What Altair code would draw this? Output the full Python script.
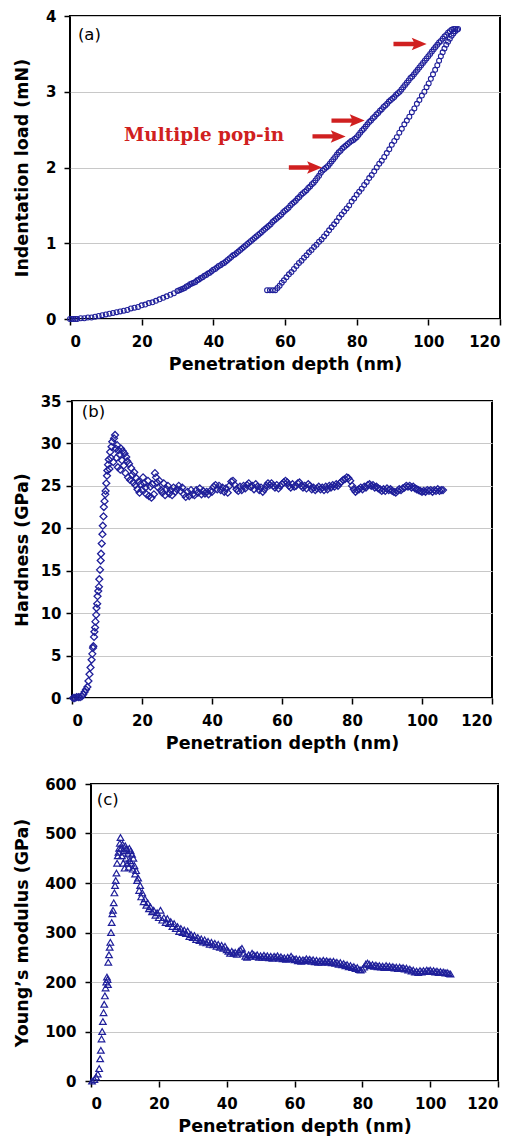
import altair as alt
import pandas as pd

BLUE = "#1f1f9a"
RED = "#d02020"

x_ticks = [0, 20, 40, 60, 80, 100, 120]
load_ticks = [0, 1, 2, 3, 4]
hard_ticks = [0, 5, 10, 15, 20, 25, 30, 35]
mod_ticks = [0, 100, 200, 300, 400, 500, 600]

# (a) loading branch: (depth nm, load mN)
loading = [
    (0.0, 0.00), (0.5, 0.00), (1.0, 0.00), (1.5, 0.00), (2.0, 0.00), (3.0, 0.01), (4.0, 0.01),
    (5.0, 0.02), (6.0, 0.02), (7.0, 0.03), (8.0, 0.04), (9.0, 0.05), (10.0, 0.06), (11.0, 0.07),
    (12.0, 0.08), (13.0, 0.09), (14.0, 0.10), (15.0, 0.11), (16.0, 0.12), (17.0, 0.14),
    (18.0, 0.15), (19.0, 0.16), (20.0, 0.18), (21.0, 0.19), (22.0, 0.21), (23.0, 0.22),
    (24.0, 0.24), (25.0, 0.26), (26.0, 0.28), (27.0, 0.30), (28.0, 0.32), (29.0, 0.34),
    (30.0, 0.37), (30.5, 0.38), (31.0, 0.39), (31.5, 0.40), (32.0, 0.41), (32.5, 0.43),
    (33.0, 0.44), (33.5, 0.46), (34.0, 0.47), (34.5, 0.48), (35.0, 0.49), (35.5, 0.51),
    (36.0, 0.52), (36.5, 0.54), (37.0, 0.55), (37.5, 0.57), (38.0, 0.58), (38.5, 0.60),
    (39.0, 0.61), (39.5, 0.63), (40.0, 0.65), (40.5, 0.66), (41.0, 0.68), (41.5, 0.70),
    (42.0, 0.71), (42.5, 0.73), (43.0, 0.74), (43.5, 0.76), (44.0, 0.78), (44.5, 0.80),
    (45.0, 0.82), (45.5, 0.84), (46.0, 0.85), (46.5, 0.87), (47.0, 0.89), (47.5, 0.91),
    (48.0, 0.93), (48.5, 0.95), (49.0, 0.97), (49.5, 0.99), (50.0, 1.01), (50.5, 1.03),
    (51.0, 1.05), (51.5, 1.07), (52.0, 1.09), (52.5, 1.11), (53.0, 1.13), (53.5, 1.15),
    (54.0, 1.17), (54.5, 1.19), (55.0, 1.21), (55.5, 1.23), (56.0, 1.25), (56.5, 1.28),
    (57.0, 1.30), (57.5, 1.32), (58.0, 1.34), (58.5, 1.36), (59.0, 1.38), (59.5, 1.41),
    (60.0, 1.43), (60.5, 1.45), (61.0, 1.47), (61.5, 1.50), (62.0, 1.52), (62.5, 1.54),
    (63.0, 1.56), (63.5, 1.59), (64.0, 1.61), (64.5, 1.64), (65.0, 1.66), (65.5, 1.68),
    (66.0, 1.70), (66.5, 1.73), (67.0, 1.75), (67.5, 1.78), (68.0, 1.80), (68.5, 1.83),
    (69.0, 1.86), (69.5, 1.89), (70.0, 1.93), (70.5, 1.96), (71.0, 1.98), (71.5, 2.00),
    (72.0, 2.02), (72.5, 2.05), (73.0, 2.08), (73.5, 2.11), (74.0, 2.14), (74.5, 2.17),
    (75.0, 2.20), (75.5, 2.22), (76.0, 2.25), (76.5, 2.27), (77.0, 2.29), (77.5, 2.31),
    (78.0, 2.33), (78.5, 2.35), (79.0, 2.36), (79.5, 2.38), (80.0, 2.40), (80.5, 2.43),
    (81.0, 2.46), (81.5, 2.49), (82.0, 2.51), (82.5, 2.54), (83.0, 2.57), (83.5, 2.60),
    (84.0, 2.62), (84.5, 2.65), (85.0, 2.67), (85.5, 2.70), (86.0, 2.72), (86.5, 2.75),
    (87.0, 2.77), (87.5, 2.80), (88.0, 2.82), (88.5, 2.84), (89.0, 2.87), (89.5, 2.89),
    (90.0, 2.91), (90.5, 2.93), (91.0, 2.96), (91.5, 2.98), (92.0, 3.00), (92.5, 3.03),
    (93.0, 3.06), (93.5, 3.09), (94.0, 3.12), (94.5, 3.15), (95.0, 3.18), (95.5, 3.20),
    (96.0, 3.23), (96.5, 3.26), (97.0, 3.29), (97.5, 3.32), (98.0, 3.35), (98.5, 3.38),
    (99.0, 3.41), (99.5, 3.44), (100.0, 3.47), (100.5, 3.50), (101.0, 3.53), (101.5, 3.56),
    (102.0, 3.59), (102.5, 3.62), (103.0, 3.65), (103.5, 3.67), (104.0, 3.70), (104.5, 3.73),
    (105.0, 3.75), (105.5, 3.78), (106.0, 3.80), (106.5, 3.82), (107.0, 3.83), (107.5, 3.83),
]

# (a) unloading branch
unloading = [
    (55.0, 0.38), (55.8, 0.38), (56.6, 0.38), (57.3, 0.38), (57.9, 0.41), (58.5, 0.44),
    (59.1, 0.48), (59.7, 0.51), (60.4, 0.55), (61.1, 0.59), (61.8, 0.62), (62.5, 0.66),
    (63.2, 0.70), (63.9, 0.74), (64.6, 0.77), (65.3, 0.81), (66.0, 0.84), (66.7, 0.88),
    (67.4, 0.91), (68.1, 0.95), (68.8, 0.98), (69.5, 1.02), (70.2, 1.05), (70.9, 1.09),
    (71.6, 1.13), (72.3, 1.17), (73.0, 1.21), (73.7, 1.25), (74.4, 1.29), (75.1, 1.34),
    (75.8, 1.38), (76.5, 1.42), (77.2, 1.46), (77.9, 1.50), (78.6, 1.55), (79.3, 1.59),
    (80.0, 1.64), (80.7, 1.68), (81.4, 1.72), (82.1, 1.77), (82.8, 1.81), (83.5, 1.86),
    (84.2, 1.90), (84.9, 1.95), (85.6, 2.00), (86.3, 2.05), (87.0, 2.09), (87.7, 2.14),
    (88.4, 2.19), (89.1, 2.24), (89.8, 2.30), (90.5, 2.35), (91.2, 2.40), (91.9, 2.46),
    (92.6, 2.51), (93.3, 2.57), (94.0, 2.62), (94.7, 2.67), (95.4, 2.73), (96.1, 2.78),
    (96.8, 2.84), (97.5, 2.89), (98.2, 2.95), (98.9, 3.00), (99.5, 3.06), (100.1, 3.11),
    (100.7, 3.17), (101.3, 3.23), (101.9, 3.29), (102.5, 3.35), (103.0, 3.41), (103.5, 3.47),
    (104.0, 3.52), (104.5, 3.57), (105.0, 3.62), (105.5, 3.66), (106.0, 3.70), (106.5, 3.74),
    (107.0, 3.77), (107.5, 3.80), (108.0, 3.82), (108.3, 3.83),
]

# (a) pop-in arrows (depth, load)
arrow_depth = [94.9, 77.6, 72.3, 65.7]
arrow_load = [3.63, 2.62, 2.41, 2.00]

# (b) hardness: (depth nm, GPa)
hardness = [
    (0.3, 0.0), (0.8, 0.0), (1.3, 0.1), (1.8, 0.1), (2.3, 0.1), (2.8, 0.2), (3.2, 0.4),
    (3.6, 0.7), (4.0, 1.0), (4.4, 1.3), (4.7, 2.0), (5.0, 2.8), (5.3, 3.6), (5.6, 4.5),
    (5.8, 5.2), (6.0, 5.9), (6.1, 6.1), (6.3, 7.2), (6.4, 7.8), (6.6, 8.3), (6.7, 9.0),
    (6.9, 9.8), (7.0, 10.6), (7.2, 11.1), (7.3, 12.0), (7.5, 12.6), (7.7, 13.1), (7.8, 14.0),
    (8.0, 15.1), (8.2, 16.2), (8.3, 17.0), (8.5, 18.2), (8.7, 19.3), (8.8, 20.3), (9.0, 21.4),
    (9.1, 22.5), (9.3, 23.2), (9.5, 24.0), (9.6, 24.4), (9.8, 25.3), (10.0, 26.2), (10.1, 26.8),
    (10.3, 27.5), (10.5, 28.1), (10.7, 27.0), (10.9, 29.0), (11.1, 28.3), (11.3, 29.6),
    (11.5, 30.2), (11.8, 27.8), (12.0, 30.6), (12.3, 31.0), (12.5, 29.4), (12.7, 28.3),
    (12.9, 29.8), (13.1, 27.2), (13.3, 29.2), (13.6, 28.7), (13.8, 26.9), (14.0, 29.4),
    (14.3, 28.0), (14.5, 29.1), (14.8, 27.4), (15.0, 28.8), (15.3, 26.5), (15.5, 28.4),
    (15.8, 27.9), (16.0, 26.0), (16.3, 27.6), (16.6, 25.7), (16.9, 27.1), (17.2, 26.3),
    (17.5, 25.4), (17.8, 26.6), (18.1, 25.1), (18.4, 25.9), (18.7, 24.6), (19.0, 25.5),
    (19.3, 24.2), (19.6, 25.2), (20.0, 24.5), (20.3, 26.0), (20.6, 25.3), (21.0, 24.8),
    (21.3, 24.0), (21.7, 25.6), (22.0, 23.8), (22.4, 24.9), (22.7, 23.6), (23.0, 25.2),
    (23.4, 24.0), (23.7, 26.5), (24.0, 26.0), (24.3, 25.4), (24.6, 24.8), (25.0, 25.6),
    (25.4, 24.5), (25.8, 24.2), (26.2, 25.3), (26.6, 23.9), (27.0, 24.6), (27.4, 25.0),
    (27.8, 24.1), (28.2, 24.5), (28.6, 23.9), (29.0, 24.8), (29.5, 24.3), (30.0, 24.6),
    (30.5, 25.0), (31.0, 24.4), (31.5, 24.8), (32.0, 24.0), (32.5, 23.7), (33.0, 24.3),
    (33.5, 23.8), (34.0, 24.5), (34.5, 24.0), (35.0, 23.9), (35.5, 24.5), (36.0, 24.2),
    (36.5, 24.7), (37.0, 24.0), (37.5, 24.4), (38.0, 24.1), (38.5, 24.3), (39.0, 24.0),
    (39.5, 24.4), (40.0, 24.3), (40.5, 24.9), (41.0, 25.1), (41.5, 24.6), (42.0, 25.0),
    (42.5, 24.5), (43.0, 24.8), (43.5, 24.3), (44.0, 24.7), (44.5, 24.2), (45.0, 25.0),
    (45.5, 25.5), (46.0, 25.6), (46.5, 25.1), (47.0, 24.6), (47.5, 24.4), (48.0, 24.9),
    (48.5, 24.5), (49.0, 25.0), (49.5, 24.7), (50.0, 25.1), (50.5, 25.3), (51.0, 24.9),
    (51.5, 25.0), (52.0, 24.6), (52.5, 25.2), (53.0, 24.9), (53.5, 24.5), (54.0, 24.8),
    (54.5, 24.3), (55.0, 24.6), (55.5, 25.0), (56.0, 25.3), (56.5, 25.1), (57.0, 25.3),
    (57.5, 25.0), (58.0, 24.8), (58.5, 25.1), (59.0, 24.7), (59.5, 25.0), (60.0, 25.2),
    (60.5, 25.4), (61.0, 25.6), (61.5, 25.4), (62.0, 25.0), (62.5, 24.8), (63.0, 25.2),
    (63.5, 24.9), (64.0, 25.0), (64.5, 25.3), (65.0, 25.4), (65.5, 25.0), (66.0, 24.8),
    (66.5, 25.0), (67.0, 24.7), (67.5, 25.2), (68.0, 25.0), (68.5, 24.6), (69.0, 24.8),
    (69.5, 24.5), (70.0, 24.7), (70.5, 24.9), (71.0, 24.6), (71.5, 24.8), (72.0, 24.5),
    (72.5, 24.9), (73.0, 24.6), (73.5, 25.0), (74.0, 24.8), (74.5, 25.1), (75.0, 24.9),
    (75.5, 25.2), (76.0, 25.0), (76.5, 25.3), (77.0, 25.5), (77.5, 25.7), (78.0, 25.8),
    (78.5, 26.0), (79.0, 25.9), (79.5, 25.6), (80.0, 25.0), (80.5, 24.6), (81.0, 24.3),
    (81.5, 24.5), (82.0, 24.6), (82.5, 24.8), (83.0, 24.6), (83.5, 24.9), (84.0, 24.8),
    (84.5, 25.1), (85.0, 25.2), (85.5, 25.0), (86.0, 25.1), (86.5, 24.8), (87.0, 24.9),
    (87.5, 24.7), (88.0, 24.6), (88.5, 24.4), (89.0, 24.6), (89.5, 24.4), (90.0, 24.7),
    (90.5, 24.5), (91.0, 24.6), (91.5, 24.4), (92.0, 24.3), (92.5, 24.2), (93.0, 24.4),
    (93.5, 24.6), (94.0, 24.5), (94.5, 24.7), (95.0, 24.8), (95.5, 25.0), (96.0, 24.9),
    (96.5, 25.0), (97.0, 24.8), (97.5, 24.9), (98.0, 24.7), (98.5, 24.6), (99.0, 24.5),
    (99.5, 24.4), (100.0, 24.3), (100.5, 24.4), (101.0, 24.3), (101.5, 24.5), (102.0, 24.4),
    (102.5, 24.5), (103.0, 24.3), (103.5, 24.5), (104.0, 24.4), (104.5, 24.6), (105.0, 24.4),
    (105.5, 24.5), (106.0, 24.5),
]

# (c) Young's modulus: (depth nm, GPa)
modulus = [
    (0.3, 0), (1.0, 3), (1.5, 8), (2.0, 14), (2.4, 25), (2.7, 45), (2.9, 62), (3.1, 85),
    (3.3, 100), (3.5, 120), (3.7, 138), (3.9, 155), (4.1, 172), (4.3, 188), (4.5, 200),
    (4.7, 210), (4.9, 205), (5.0, 195), (5.1, 240), (5.3, 255), (5.5, 270), (5.7, 280),
    (5.9, 300), (6.1, 320), (6.3, 338), (6.5, 345), (6.7, 360), (6.9, 380), (7.1, 395),
    (7.3, 405), (7.5, 420), (7.7, 440), (7.9, 455), (8.1, 462), (8.3, 470), (8.5, 480),
    (8.7, 492), (8.9, 470), (9.1, 455), (9.3, 478), (9.5, 440), (9.7, 465), (9.9, 430),
    (10.1, 475), (10.3, 450), (10.5, 468), (10.7, 440), (10.9, 460), (11.1, 432), (11.3, 470),
    (11.5, 445), (11.7, 465), (11.9, 440), (12.1, 458), (12.3, 428), (12.5, 450), (12.8, 435),
    (13.0, 418), (13.3, 425), (13.6, 405), (13.9, 410), (14.2, 385), (14.5, 395), (14.8, 372),
    (15.1, 380), (15.5, 362), (15.9, 368), (16.3, 355), (16.7, 360), (17.1, 348), (17.5, 352),
    (18.0, 342), (18.5, 345), (19.0, 335), (19.5, 340), (20.0, 330), (20.5, 345), (21.0, 325),
    (21.5, 330), (22.0, 320), (22.5, 328), (23.0, 318), (23.5, 322), (24.0, 312), (24.5, 318),
    (25.0, 308), (25.5, 312), (26.0, 302), (26.5, 308), (27.0, 300), (27.5, 305), (28.0, 298),
    (28.5, 303), (29.0, 292), (29.5, 296), (30.0, 290), (30.5, 294), (31.0, 286), (31.5, 290),
    (32.0, 284), (32.5, 287), (33.0, 281), (33.5, 285), (34.0, 279), (34.5, 282), (35.0, 276),
    (35.5, 280), (36.0, 275), (36.5, 278), (37.0, 272), (37.5, 276), (38.0, 270), (38.5, 274),
    (39.0, 268), (39.5, 272), (40.0, 265), (40.5, 262), (41.0, 258), (41.5, 262), (42.0, 258),
    (42.5, 260), (43.0, 256), (43.5, 262), (44.0, 265), (44.5, 268), (45.0, 258), (45.5, 252),
    (46.0, 250), (46.5, 255), (47.0, 252), (47.5, 258), (48.0, 255), (48.5, 252), (49.0, 255),
    (49.5, 250), (50.0, 253), (50.5, 250), (51.0, 254), (51.5, 250), (52.0, 253), (52.5, 249),
    (53.0, 252), (53.5, 248), (54.0, 252), (54.5, 250), (55.0, 253), (55.5, 248), (56.0, 251),
    (56.5, 247), (57.0, 249), (57.5, 246), (58.0, 250), (58.5, 247), (59.0, 252), (59.5, 248),
    (60.0, 245), (60.5, 247), (61.0, 243), (61.5, 246), (62.0, 242), (62.5, 245), (63.0, 243),
    (63.5, 247), (64.0, 244), (64.5, 246), (65.0, 242), (65.5, 245), (66.0, 241), (66.5, 244),
    (67.0, 240), (67.5, 243), (68.0, 240), (68.5, 244), (69.0, 241), (69.5, 243), (70.0, 240),
    (70.5, 242), (71.0, 239), (71.5, 242), (72.0, 238), (72.5, 240), (73.0, 236), (73.5, 239),
    (74.0, 235), (74.5, 237), (75.0, 233), (75.5, 235), (76.0, 231), (76.5, 233), (77.0, 229),
    (77.5, 231), (78.0, 227), (78.5, 229), (79.0, 225), (79.5, 224), (80.0, 226), (80.5, 230),
    (81.0, 236), (81.5, 238), (82.0, 236), (82.5, 233), (83.0, 235), (83.5, 232), (84.0, 234),
    (84.5, 231), (85.0, 233), (85.5, 230), (86.0, 232), (86.5, 229), (87.0, 233), (87.5, 230),
    (88.0, 232), (88.5, 229), (89.0, 231), (89.5, 228), (90.0, 230), (90.5, 227), (91.0, 230),
    (91.5, 227), (92.0, 229), (92.5, 226), (93.0, 228), (93.5, 224), (94.0, 226), (94.5, 222),
    (95.0, 224), (95.5, 220), (96.0, 222), (96.5, 219), (97.0, 223), (97.5, 220), (98.0, 223),
    (98.5, 221), (99.0, 224), (99.5, 222), (100.0, 224), (100.5, 221), (101.0, 223),
    (101.5, 220), (102.0, 222), (102.5, 219), (103.0, 221), (103.5, 219), (104.0, 220),
    (104.5, 218), (105.0, 219), (105.5, 217), (106.0, 216),
]

ARROW = "M -1 -0.13 L 0.22 -0.13 L 0.1 -0.38 L 1 0 L 0.1 0.38 L 0.22 0.13 L -1 0.13 Z"
X_TITLE = "Penetration depth (nm)"


def to_df(pairs):
    return pd.DataFrame({"d": [p[0] for p in pairs], "v": [p[1] for p in pairs]})


def panel(frames, shape, size, sw, ydom, yticks, ytitle, lpad, tpad, w, h, label, lx, ly, extra=()):
    xenc = alt.X("d:Q", scale=alt.Scale(domain=[0, 120], nice=False, zero=False),
                 axis=alt.Axis(values=x_ticks, title=X_TITLE, grid=False))
    yenc = alt.Y("v:Q", scale=alt.Scale(domain=ydom, nice=False, zero=False),
                 axis=alt.Axis(values=yticks, title=ytitle, grid=True,
                               labelPadding=lpad, titlePadding=tpad))
    layers = []
    for f in frames:
        layers.append(
            alt.Chart(f).mark_point(shape=shape, filled=False, size=size, strokeWidth=sw,
                                    color=BLUE, opacity=1).encode(x=xenc, y=yenc)
        )
    lab = alt.Chart(pd.DataFrame({"d": [lx], "v": [ly], "t": [label]})).mark_text(
        align="left", baseline="top", font="DejaVu Sans", fontSize=16.5, color="black"
    ).encode(x=xenc, y=yenc, text="t:N")
    layers.append(lab)
    for e in extra:
        layers.append(e(xenc, yenc))
    return alt.layer(*layers).properties(width=w, height=h)


def arrows(xenc, yenc):
    df = pd.DataFrame({"d": arrow_depth, "v": arrow_load})
    return alt.Chart(df).mark_point(shape=ARROW, filled=True, size=1100, color=RED,
                                     opacity=1, strokeWidth=0).encode(x=xenc, y=yenc)


def popin_text(xenc, yenc):
    df = pd.DataFrame({"d": [37.4], "v": [2.35], "t": ["Multiple pop-in"]})
    return alt.Chart(df).mark_text(align="center", baseline="alphabetic", font="DejaVu Serif",
                                    fontWeight="bold", fontSize=18.4, color=RED).encode(
        x=xenc, y=yenc, text="t:N")


def spacer(w):
    return alt.Chart(pd.DataFrame({"d": [0]})).mark_point(
        opacity=0, size=0, strokeWidth=0
    ).encode(
        x=alt.value(0), y=alt.value(0)
    ).properties(width=w, height=1, view=alt.ViewBackground(stroke="transparent"))


pa = panel([to_df(loading), to_df(unloading)], "circle", 24, 1.1, [0, 4], load_ticks,
           "Indentation load (mN)", 8, 14, 430, 303, "(a)", 2.2, 3.86,
           extra=(popin_text, arrows))
pb = panel([to_df(hardness)], "diamond", 48, 1.3, [0, 35], hard_ticks,
           "Hardness (GPa)", 5, 9, 420, 297, "(b)", 2.8, 34.7)
pc = panel([to_df(modulus)], "triangle-up", 44, 1.2, [0, 600], mod_ticks,
           "Young\u2019s modulus (GPa)", 9, 13, 407, 297, "(c)", 1.7, 584)

row_a = alt.hconcat(spacer(2), pa, spacing=0)
row_b = alt.hconcat(spacer(2), pb, spacing=0)
row_c = alt.hconcat(spacer(2), pc, spacing=0)

top = alt.vconcat(row_a, row_b, spacing=19)

chart = alt.vconcat(top, row_c, spacing=23).properties(
    padding={"left": 0, "top": 0, "right": 5, "bottom": 0}
).configure_view(stroke="black", strokeWidth=2).configure_axis(
    labelFont="DejaVu Sans", labelFontWeight="bold", labelFontSize=15, labelColor="black",
    titleFont="DejaVu Sans", titleFontWeight="bold", titleFontSize=17.5, titleColor="black",
    tickColor="black", tickWidth=1.5, tickSize=6, domain=False,
    gridColor="#c8c8c8", gridWidth=1,
).configure_axisX(labelPadding=9, titlePadding=6)

chart.save("out.html", embed_options={"renderer": "svg", "actions": False})
